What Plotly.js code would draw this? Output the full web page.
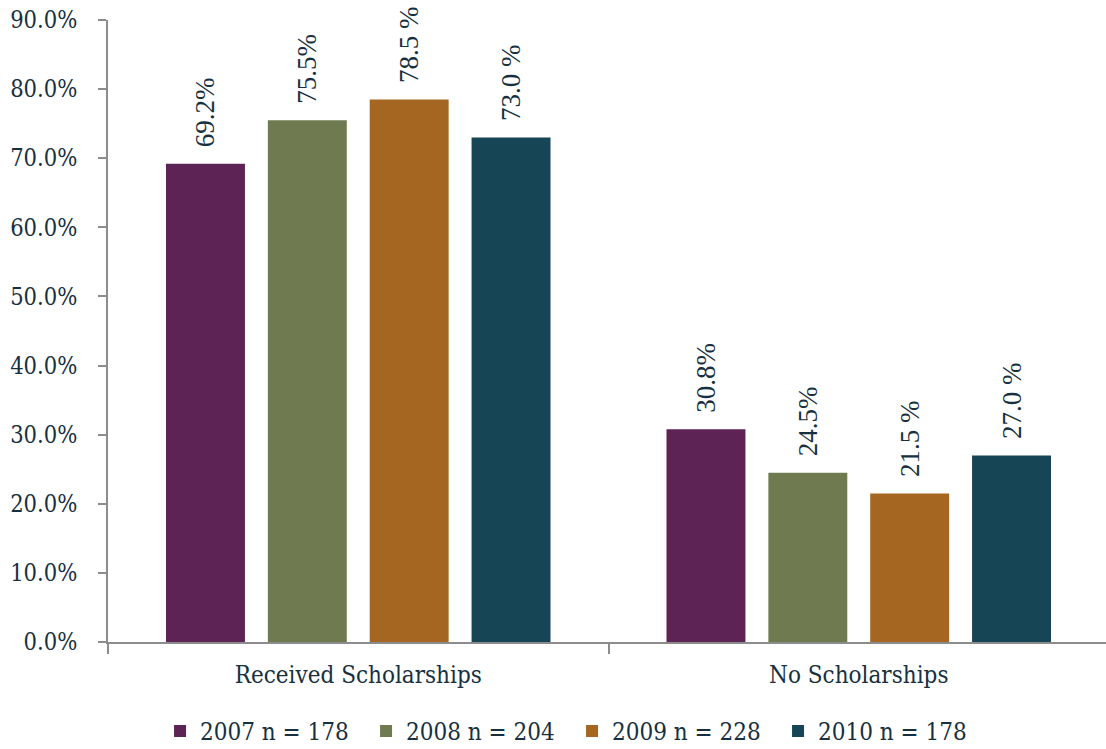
<!DOCTYPE html>
<html>
<head>
<meta charset="utf-8">
<script src="https://cdn.plot.ly/plotly-3.0.1.min.js"></script>
<style>
html,body{margin:0;padding:0;overflow:hidden;background:#fff;}
#chart{width:1109px;height:749px;}
</style>
</head>
<body>
<div id="chart"></div>
<script>
const categories = ["Received Scholarships", "No Scholarships"];
const seriesNames = ["2007 n = 178", "2008 n = 204", "2009 n = 228", "2010 n = 178"];
const values2007 = [69.2, 30.8];
const values2008 = [75.5, 24.5];
const values2009 = [78.5, 21.5];
const values2010 = [73.0, 27.0];
const labels2007 = ["69.2%", "30.8%"];
const labels2008 = ["75.5%", "24.5%"];
const labels2009 = ["78.5 %", "21.5 %"];
const labels2010 = ["73.0 %", "27.0 %"];
const yTickVals = [0, 10, 20, 30, 40, 50, 60, 70, 80, 90];

const colors = ["#5c2354", "#6f7a50", "#a56622", "#164555"];
const textColor = "#17303f";
const axisFont = "'DejaVu Serif Condensed', 'DejaVu Serif', serif";
const labelFont = "'Liberation Serif', 'Times New Roman', serif";

const allValues = [values2007, values2008, values2009, values2010];
const allLabels = [labels2007, labels2008, labels2009, labels2010];

const traces = seriesNames.map((name, i) => ({
  type: "bar",
  name: name,
  x: categories,
  y: allValues[i],
  text: allLabels[i].map(t => "\u00a0\u00a0" + t),
  textposition: "outside",
  textangle: -90,
  constraintext: "none",
  cliponaxis: false,
  textfont: {family: labelFont, size: 27, color: textColor},
  marker: {color: colors[i], line: {width: 0}},
  hoverinfo: "skip"
}));

const layout = {
  width: 1109,
  height: 749,
  margin: {l: 108, r: 0, t: 20, b: 107, autoexpand: false},
  paper_bgcolor: "#ffffff",
  plot_bgcolor: "#ffffff",
  barmode: "group",
  bargap: 0.186,
  bargroupgap: 0.225,
  showlegend: true,
  legend: {
    orientation: "h",
    x: 0.052,
    xanchor: "left",
    yref: "container",
    y: 0.0235,
    yanchor: "middle",
    font: {family: axisFont, size: 24, color: textColor},
    entrywidthmode: "pixels",
    entrywidth: 161,
    itemclick: false,
    itemdoubleclick: false
  },
  xaxis: {
    type: "category",
    automargin: false,
    showline: true,
    linecolor: "#8c8c8c",
    linewidth: 2,
    ticks: "outside",
    tickson: "boundaries",
    ticklen: 10,
    tickwidth: 2,
    tickcolor: "#8c8c8c",
    showgrid: false,
    zeroline: false,
    tickfont: {family: axisFont, size: 24, color: textColor},
    ticklabelstandoff: 10,
    fixedrange: true
  },
  yaxis: {
    range: [0, 90],
    automargin: false,
    tickvals: yTickVals,
    ticktext: yTickVals.map(v => v.toFixed(1) + "%"),
    showline: true,
    linecolor: "#8c8c8c",
    linewidth: 2,
    ticks: "outside",
    ticklen: 8,
    tickwidth: 2,
    tickcolor: "#8c8c8c",
    showgrid: false,
    zeroline: false,
    tickfont: {family: axisFont, size: 23.5, color: textColor},
    ticklabelstandoff: 16,
    fixedrange: true
  }
};

Plotly.newPlot("chart", traces, layout, {displayModeBar: false, staticPlot: true});
</script>
</body>
</html>
